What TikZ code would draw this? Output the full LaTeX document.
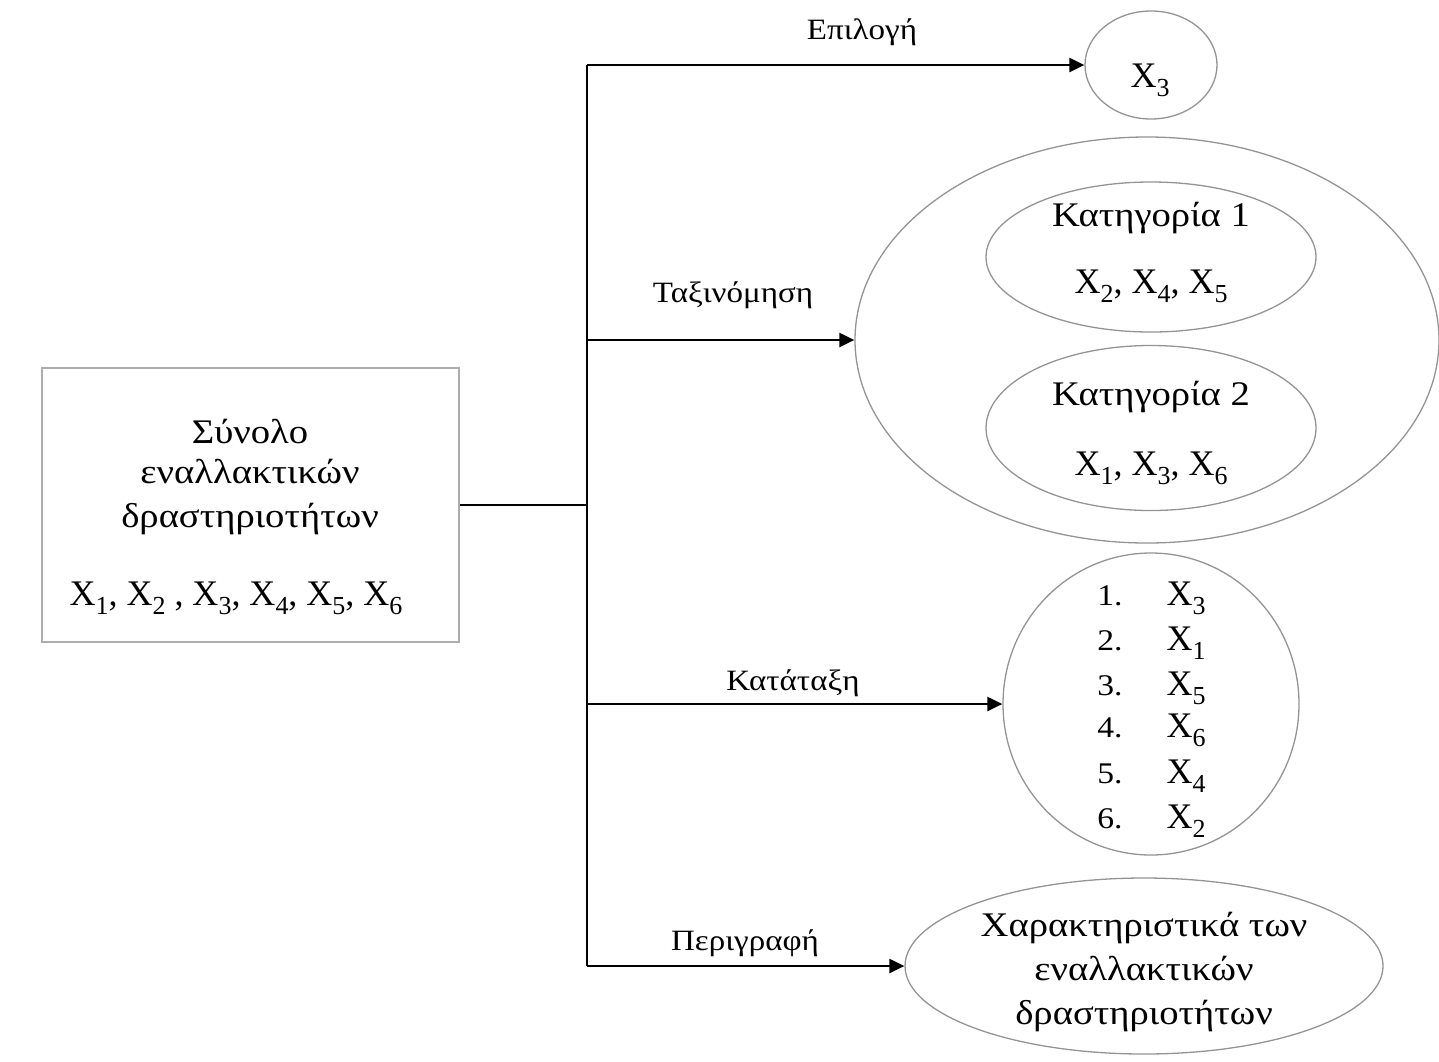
\documentclass[tikz,border=0pt]{standalone}
\usepackage{fontspec}
\setmainfont[FakeStretch=1.12]{Liberation Serif}
\newfontfamily\xfam{Liberation Serif}
\usetikzlibrary{shapes.geometric,arrows.meta}
\newcommand\Xs[1]{X\raisebox{-9.5pt}{\fontsize{26}{28}\selectfont #1}}
\begin{document}
\begin{tikzpicture}[x=1pt,y=-1pt,
  grayline/.style={draw=black!42, line width=1.3pt},
  ell/.style={grayline, ellipse, inner sep=0pt},
  conn/.style={line width=2.2pt, -{Triangle[length=15pt,width=14pt]}},
  trunk/.style={line width=2.2pt},
  lbl/.style={font=\fontsize{29.5}{34}\selectfont, anchor=base},
  big/.style={font=\fontsize{34.5}{40}\selectfont, anchor=base},
  xs/.style={font=\xfam\fontsize{36}{40}\selectfont, anchor=base},
  num/.style={font=\fontsize{30}{36}\selectfont, anchor=base}]
\useasboundingbox (0,0) rectangle (1439,1061);

% source box
\node[draw=black!32, line width=1.3pt, rectangle, minimum width=417pt, minimum height=274pt, inner sep=0pt] (set) at (250.5,505) {};
\node[big] (s1) at (250,443) {Σύνολο};
\node[big] (s2) at (250,483) {εναλλακτικών};
\node[big] (s3) at (250,527) {δραστηριοτήτων};
\node[xs] (s4) at (236,605) {\Xs{1}, \Xs{2} , \Xs{3}, \Xs{4}, \Xs{5}, \Xs{6}};

% targets
\node[ell, minimum width=132pt, minimum height=108pt] (sel) at (1151,65) {};
\node[xs] (selt) at (1150,87) {\Xs{3}};

\node[ell, minimum width=584pt, minimum height=406pt] (cls) at (1147,340) {};
\node[ell, minimum width=330pt, minimum height=150pt] (c1) at (1151,257) {};
\node[big] (c1a) at (1151,226) {Κατηγορία 1};
\node[xs] (c1b) at (1151,293) {\Xs{2}, \Xs{4}, \Xs{5}};
\node[ell, minimum width=330pt, minimum height=165pt] (c2) at (1151,428) {};
\node[big] (c2a) at (1151,405) {Κατηγορία 2};
\node[xs] (c2b) at (1151,475) {\Xs{1}, \Xs{3}, \Xs{6}};

\node[ell, minimum width=296pt, minimum height=302pt] (rank) at (1151,704) {};
\foreach \n/\s/\yy in {1/3/605, 2/1/650, 3/5/695, 4/6/737, 5/4/783, 6/2/828}{
  \node[num] (rn\n) at (1110,\yy) {\n.};
  \node[xs] (rx\n) at (1186,\yy) {\Xs{\s}};
}

\node[ell, minimum width=478pt, minimum height=176pt] (desc) at (1144,966) {};
\node[big] (d1) at (1144,936) {Χαρακτηριστικά των};
\node[big] (d2) at (1144,980) {εναλλακτικών};
\node[big] (d3) at (1144,1024) {δραστηριοτήτων};

% connectors
\coordinate (j) at (587,505);
\coordinate (jt) at (587,65);
\coordinate (jb) at (587,966);
\coordinate (j2) at (587,340);
\coordinate (j3) at (587,704);
\draw[trunk] (set.east) -- (j);
\draw[trunk] (jt) -- (jb);
\draw[conn] (jt) -- (sel.west);
\draw[conn] (j2) -- (cls.west);
\draw[conn] (j3) -- (rank.west);
\draw[conn] (jb) -- (desc.west);

% labels
\node[lbl] (l1) at (862,39) {Επιλογή};
\node[lbl] (l2) at (733,302) {Ταξινόμηση};
\node[lbl] (l3) at (793,690) {Κατάταξη};
\node[lbl] (l4) at (745,950) {Περιγραφή};
\end{tikzpicture}
\end{document}
